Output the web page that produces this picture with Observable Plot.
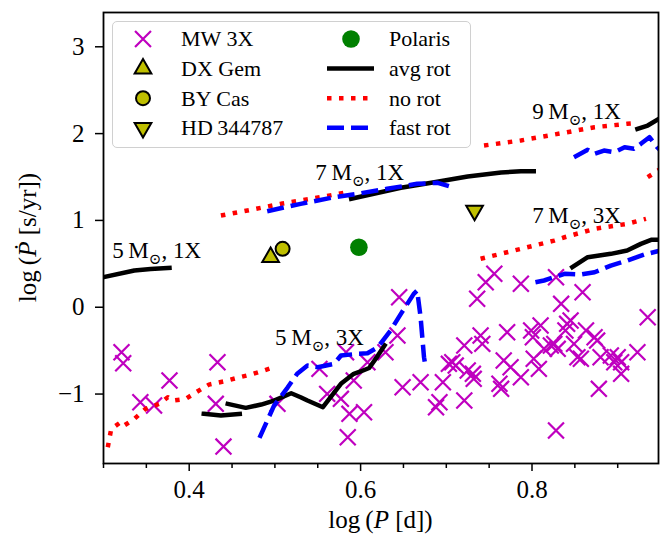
<!DOCTYPE html>
<html><head><meta charset="utf-8">
<script src="https://cdn.jsdelivr.net/npm/d3@7"></script>
<script src="https://cdn.jsdelivr.net/npm/@observablehq/plot@0.6"></script>
<style>
body{margin:0;background:#fff;}
#wrap{position:relative;width:662px;height:542px;font-family:'Liberation Serif','DejaVu Serif','Times New Roman',serif;}
#wrap svg{display:block;}
#wrap svg, #wrap svg text{font-family:'Liberation Serif','DejaVu Serif','Times New Roman',serif !important;}
#legend{position:absolute;left:112px;top:21px;width:359px;height:127px;box-sizing:border-box;border:1.5px solid #d0d0d0;border-radius:5px;background:rgba(255,255,255,0.85);}
#legend svg{position:absolute;left:-1.5px;top:-1.5px;}
</style></head><body><div id="wrap"></div>
<script>
// ---------- data ----------
const xMajorTicks = [0.4, 0.6, 0.8];
const xMinorTicks = [0.30, 0.35, 0.45, 0.50, 0.55, 0.65, 0.70, 0.75, 0.85, 0.90];
const yTicks = [-1, 0, 1, 2, 3];

const mwLogP = [0.321,0.323,0.343,0.359,0.377,0.433,0.431,0.440,0.503,0.552,0.583,0.561,0.577,0.592,0.587,0.604,0.585,0.608,0.645,0.643,0.629,0.649,0.670,0.688,0.692,0.696,0.703,0.707,0.711,0.721,0.721,0.725,0.731,0.732,0.736,0.740,0.742,0.746,0.756,0.762,0.764,0.767,0.771,0.775,0.787,0.787,0.799,0.801,0.802,0.808,0.810,0.814,0.822,0.826,0.828,0.830,0.828,0.834,0.839,0.841,0.845,0.849,0.853,0.857,0.859,0.863,0.873,0.876,0.880,0.878,0.892,0.896,0.900,0.904,0.904,0.923,0.935];
const mwLogPdot = [-0.518,-0.645,-1.094,-1.132,-0.844,-0.634,-1.113,-1.605,-1.113,-0.710,-0.518,-0.998,-1.055,-0.844,-1.228,-1.210,-1.498,-0.634,0.115,-0.326,-0.518,-0.922,-0.864,-1.152,-1.094,-0.864,-0.652,-0.634,-0.672,-0.441,-1.075,-0.729,-0.767,-0.825,0.097,-0.326,-0.422,0.288,0.385,-0.882,-0.940,-0.614,-0.288,-0.691,0.270,-0.806,-0.268,-0.346,-0.594,-0.710,-0.211,-0.479,-0.441,-0.422,0.346,-0.479,-1.420,0.039,-0.268,-0.191,-0.153,-0.422,-0.576,-0.594,0.173,-0.268,-0.346,-0.384,-0.576,-0.940,-0.556,-0.634,-0.576,-0.767,-0.634,-0.518,-0.115];

const starNames = ["DX Gem", "BY Cas", "HD\u2009344787", "Polaris"];
const starLogP = [0.495, 0.509, 0.733, 0.598];
const starLogPdot = [0.576, 0.673, 1.114, 0.691];

// avg rot (black solid)
const avg_5M1X = [[0.300,0.346],[0.336,0.423],[0.355,0.440],[0.377,0.454]];
const avg_5M3Xa = [[0.417,-1.228],[0.437,-1.248],[0.459,-1.228]];
const avg_5M3X = [[0.445,-1.113],[0.466,-1.159],[0.484,-1.121],[0.499,-1.075],[0.519,-0.991],[0.530,-1.037],[0.538,-1.075],[0.556,-1.152],[0.577,-0.882],[0.592,-0.767],[0.600,-0.740],[0.610,-0.700],[0.620,-0.560],[0.628,-0.440]];
const avg_7M1X = [[0.589,1.249],[0.647,1.376],[0.686,1.440],[0.725,1.506],[0.764,1.552],[0.787,1.567],[0.802,1.567]];
const avg_7M3X = [[0.847,0.461],[0.865,0.576],[0.892,0.615],[0.911,0.653],[0.927,0.730],[0.939,0.776],[0.950,0.776]];
const avg_9M1X = [[0.923,2.055],[0.935,2.093],[0.948,2.171]];

// no rot (red dotted)
const no_5M3X = [[0.305,-1.613],[0.309,-1.401],[0.320,-1.325],[0.324,-1.363],[0.336,-1.286],[0.349,-1.171],[0.365,-1.113],[0.375,-1.037],[0.381,-1.075],[0.396,-1.055],[0.410,-0.968],[0.423,-0.891],[0.441,-0.853],[0.456,-0.813],[0.472,-0.775],[0.487,-0.729],[0.501,-0.683]];
const no_7M1X = [[0.437,1.056],[0.472,1.122],[0.507,1.191],[0.542,1.249],[0.585,1.325]];
const no_9M1X = [[0.744,1.863],[0.787,1.921],[0.841,2.016],[0.873,2.074],[0.911,2.113],[0.921,2.120]];
const no_7M3X = [[0.740,0.558],[0.779,0.653],[0.826,0.768],[0.838,0.806],[0.873,0.903],[0.911,0.961],[0.933,1.018]];
const no_9M3X = [[0.935,1.498],[0.950,1.594]];

// fast rot (blue dashed)
const fast_5M3X = [[0.482,-1.505],[0.499,-1.133],[0.515,-0.922],[0.526,-0.767],[0.538,-0.672],[0.550,-0.691],[0.569,-0.652],[0.577,-0.556],[0.596,-0.537],[0.608,-0.530],[0.620,-0.461],[0.635,-0.268],[0.647,-0.076],[0.662,0.154],[0.666,0.192],[0.670,-0.115],[0.674,-0.576],[0.676,-0.698]];
const fast_7M1X = [[0.491,1.106],[0.530,1.191],[0.569,1.267],[0.600,1.313],[0.631,1.364],[0.666,1.422],[0.690,1.433],[0.703,1.394]];
const fast_7M3X = [[0.804,0.288],[0.814,0.308],[0.838,0.385],[0.857,0.377],[0.873,0.403],[0.892,0.480],[0.911,0.538],[0.931,0.607],[0.950,0.653]];
const fast_9M1X = [[0.849,1.728],[0.865,1.813],[0.873,1.767],[0.884,1.805],[0.896,1.786],[0.908,1.843],[0.919,1.825],[0.927,1.882],[0.937,1.959],[0.946,1.843],[0.950,1.805]];

const labelText = ["5\u2009M\u2299, 1X", "5\u2009M\u2299, 3X", "7\u2009M\u2299, 1X", "9\u2009M\u2299, 1X", "7\u2009M\u2299, 3X"];
const labelLogP = [0.362, 0.552, 0.599, 0.852, 0.852];
const labelLogPdot = [0.653, -0.346, 1.555, 2.258, 1.056];

const legendLabels = ["MW 3X", "DX Gem", "BY Cas", "HD\u2009344787", "Polaris", "avg rot", "no rot", "fast rot"];

// ---------- build tables ----------
const toRows = (tracks) => tracks.flatMap(([name, pts]) => pts.map(([x, y]) => ({track: name, x, y})));
const avgRows = toRows([["a1",avg_5M1X],["a2",avg_5M3Xa],["a3",avg_5M3X],["a4",avg_7M1X],["a5",avg_7M3X],["a6",avg_9M1X]]);
const noRows = toRows([["n1",no_5M3X],["n2",no_7M1X],["n3",no_9M1X],["n4",no_7M3X],["n5",no_9M3X]]);
const fastRows = toRows([["f1",fast_5M3X],["f2",fast_7M1X],["f3",fast_7M3X],["f4",fast_9M1X]]);
const mw = mwLogP.map((x, i) => ({x, y: mwLogPdot[i]}));
const stars = starNames.map((n, i) => ({name: n, x: starLogP[i], y: starLogPdot[i]}));
const labels = labelText.map((t, i) => ({t, x: labelLogP[i], y: labelLogPdot[i]}));

const triangleDown = {
  draw(ctx, size) {
    const y = Math.sqrt(size / (Math.sqrt(3) * 3));
    ctx.moveTo(0, 2 * y);
    ctx.lineTo(-Math.sqrt(3) * y, -y);
    ctx.lineTo(Math.sqrt(3) * y, -y);
    ctx.closePath();
  }
};

const MAG = "#bf00bf", OLIVE = "#bfbf00", GREEN = "#008000";
const FONT = "'Liberation Serif','DejaVu Serif','Times New Roman',serif";
const fmtY = d => d < 0 ? "\u2212" + Math.abs(d) : String(d);

const chart = Plot.plot({
  width: 662, height: 542,
  marginLeft: 103, marginRight: 4, marginTop: 12, marginBottom: 79,
  style: {fontFamily: FONT, fontSize: "25px", color: "black", background: "white"},
  x: {domain: [0.3, 0.9476], label: null},
  y: {domain: [-1.8, 3.395], label: null},
  marks: [
    Plot.axisX({ticks: xMinorTicks, tickSize: 5, tickFormat: () => "", strokeWidth: 1.5, label: null}),
    Plot.axisX({ticks: xMajorTicks, tickSize: 8, tickPadding: 9, strokeWidth: 1.5, tickFormat: d => d.toFixed(1), label: null}),
    Plot.axisY({ticks: yTicks, tickSize: 8, tickPadding: 11, strokeWidth: 1.5, tickFormat: fmtY, label: null}),
    Plot.dot(mw, {x: "x", y: "y", symbol: "times", r: 7.3, stroke: MAG, strokeWidth: 2.2}),
    Plot.dot(stars.filter(d => d.name === "DX Gem"), {x: "x", y: "y", symbol: "triangle", r: 6.2, fill: OLIVE, stroke: "black", strokeWidth: 2}),
    Plot.dot(stars.filter(d => d.name === "BY Cas"), {x: "x", y: "y", r: 7, fill: OLIVE, stroke: "black", strokeWidth: 2}),
    Plot.dot(stars.filter(d => d.name.startsWith("HD")), {x: "x", y: "y", symbol: triangleDown, r: 6.2, fill: OLIVE, stroke: "black", strokeWidth: 2}),
    Plot.dot(stars.filter(d => d.name === "Polaris"), {x: "x", y: "y", r: 8.8, fill: GREEN}),
    Plot.line(avgRows, {x: "x", y: "y", z: "track", stroke: "black", strokeWidth: 4.5, strokeLinecap: "square", clip: true}),
    Plot.line(noRows, {x: "x", y: "y", z: "track", stroke: "red", strokeWidth: 4.5, strokeDasharray: "4.5,7.5", strokeLinecap: "butt", clip: true}),
    Plot.line(fastRows, {x: "x", y: "y", z: "track", stroke: "blue", strokeWidth: 4.5, strokeDasharray: "17,7", strokeLinecap: "butt", clip: true}),
    Plot.text(labels, {x: "x", y: "y", text: "t", fontSize: 23, textAnchor: "middle", lineAnchor: "middle", fill: "black"}),
    Plot.frame({stroke: "black", strokeWidth: 1.8})
  ]
});

const svg = d3.select(chart);
svg.selectAll("text").each(function () {
  const t = this.textContent;
  if (!t.includes("\u2299") || this.querySelector("tspan")) return;
  const [a, b] = t.split("\u2299");
  const el = d3.select(this);
  el.text(null);
  el.append("tspan").text(a);
  el.append("tspan").attr("font-size", 15).attr("dy", 6).text("\u2299");
  el.append("tspan").attr("dy", -6).text(b);
});
svg.append("text").attr("x", 380.5).attr("y", 528).attr("text-anchor", "middle")
  .attr("font-size", 25).attr("fill", "black")
  .call(t => {
    t.append("tspan").text("log\u2009(");
    t.append("tspan").attr("font-style", "italic").text("P");
    t.append("tspan").text(" [d])");
  });
svg.append("text").attr("transform", "translate(36,237.5) rotate(-90)").attr("text-anchor", "middle")
  .attr("font-size", 25).attr("fill", "black")
  .call(t => {
    t.append("tspan").text("log\u2009(");
    t.append("tspan").attr("font-style", "italic").text("\u1E56");
    t.append("tspan").text(" [s/yr])");
  });

const wrap = document.getElementById("wrap");
wrap.appendChild(chart);

// ---------- legend ----------
const legDiv = d3.select(wrap).append("div").attr("id", "legend");
const lsvg = legDiv.append("svg").attr("width", 359).attr("height", 127)
  .style("font-size", "22px");
const rowY = i => 18 + 29.6 * i;
const sym = (type, r) => d3.symbol(type, r * r * Math.PI)();
const kinds = ["times", "tri", "circ", "tridown", "green", "solid", "dotted", "dashed"];
legendLabels.forEach((name, i) => {
  const col = i < 4 ? 0 : 1, row = i % 4;
  const cy = rowY(row);
  const sx = col === 0 ? 31 : 239, tx = col === 0 ? 69 : 277;
  const g = lsvg.append("g");
  const k = kinds[i];
  if (k === "times") g.append("path").attr("d", sym(d3.symbolTimes, 7.3)).attr("transform", `translate(${sx},${cy})`).attr("fill", "none").attr("stroke", MAG).attr("stroke-width", 2.2);
  if (k === "tri") g.append("path").attr("d", sym(d3.symbolTriangle, 6.2)).attr("transform", `translate(${sx},${cy})`).attr("fill", OLIVE).attr("stroke", "black").attr("stroke-width", 2);
  if (k === "circ") g.append("circle").attr("cx", sx).attr("cy", cy).attr("r", 7).attr("fill", OLIVE).attr("stroke", "black").attr("stroke-width", 2);
  if (k === "tridown") g.append("path").attr("d", d3.symbol(triangleDown, 6.2 * 6.2 * Math.PI)()).attr("transform", `translate(${sx},${cy})`).attr("fill", OLIVE).attr("stroke", "black").attr("stroke-width", 2);
  if (k === "green") g.append("circle").attr("cx", sx).attr("cy", cy).attr("r", 8.8).attr("fill", GREEN);
  if (k === "solid" || k === "dotted" || k === "dashed") {
    const ln = g.append("line").attr("x1", 215).attr("x2", 262).attr("y1", cy).attr("y2", cy).attr("stroke-width", 4.5);
    if (k === "solid") ln.attr("stroke", "black");
    if (k === "dotted") ln.attr("stroke", "red").attr("stroke-dasharray", "4.5,7.5");
    if (k === "dashed") ln.attr("stroke", "blue").attr("stroke-dasharray", "17,7");
  }
  g.append("text").attr("x", tx).attr("y", cy).attr("dy", "0.34em").attr("fill", "black").text(name);
});
</script></body></html>
